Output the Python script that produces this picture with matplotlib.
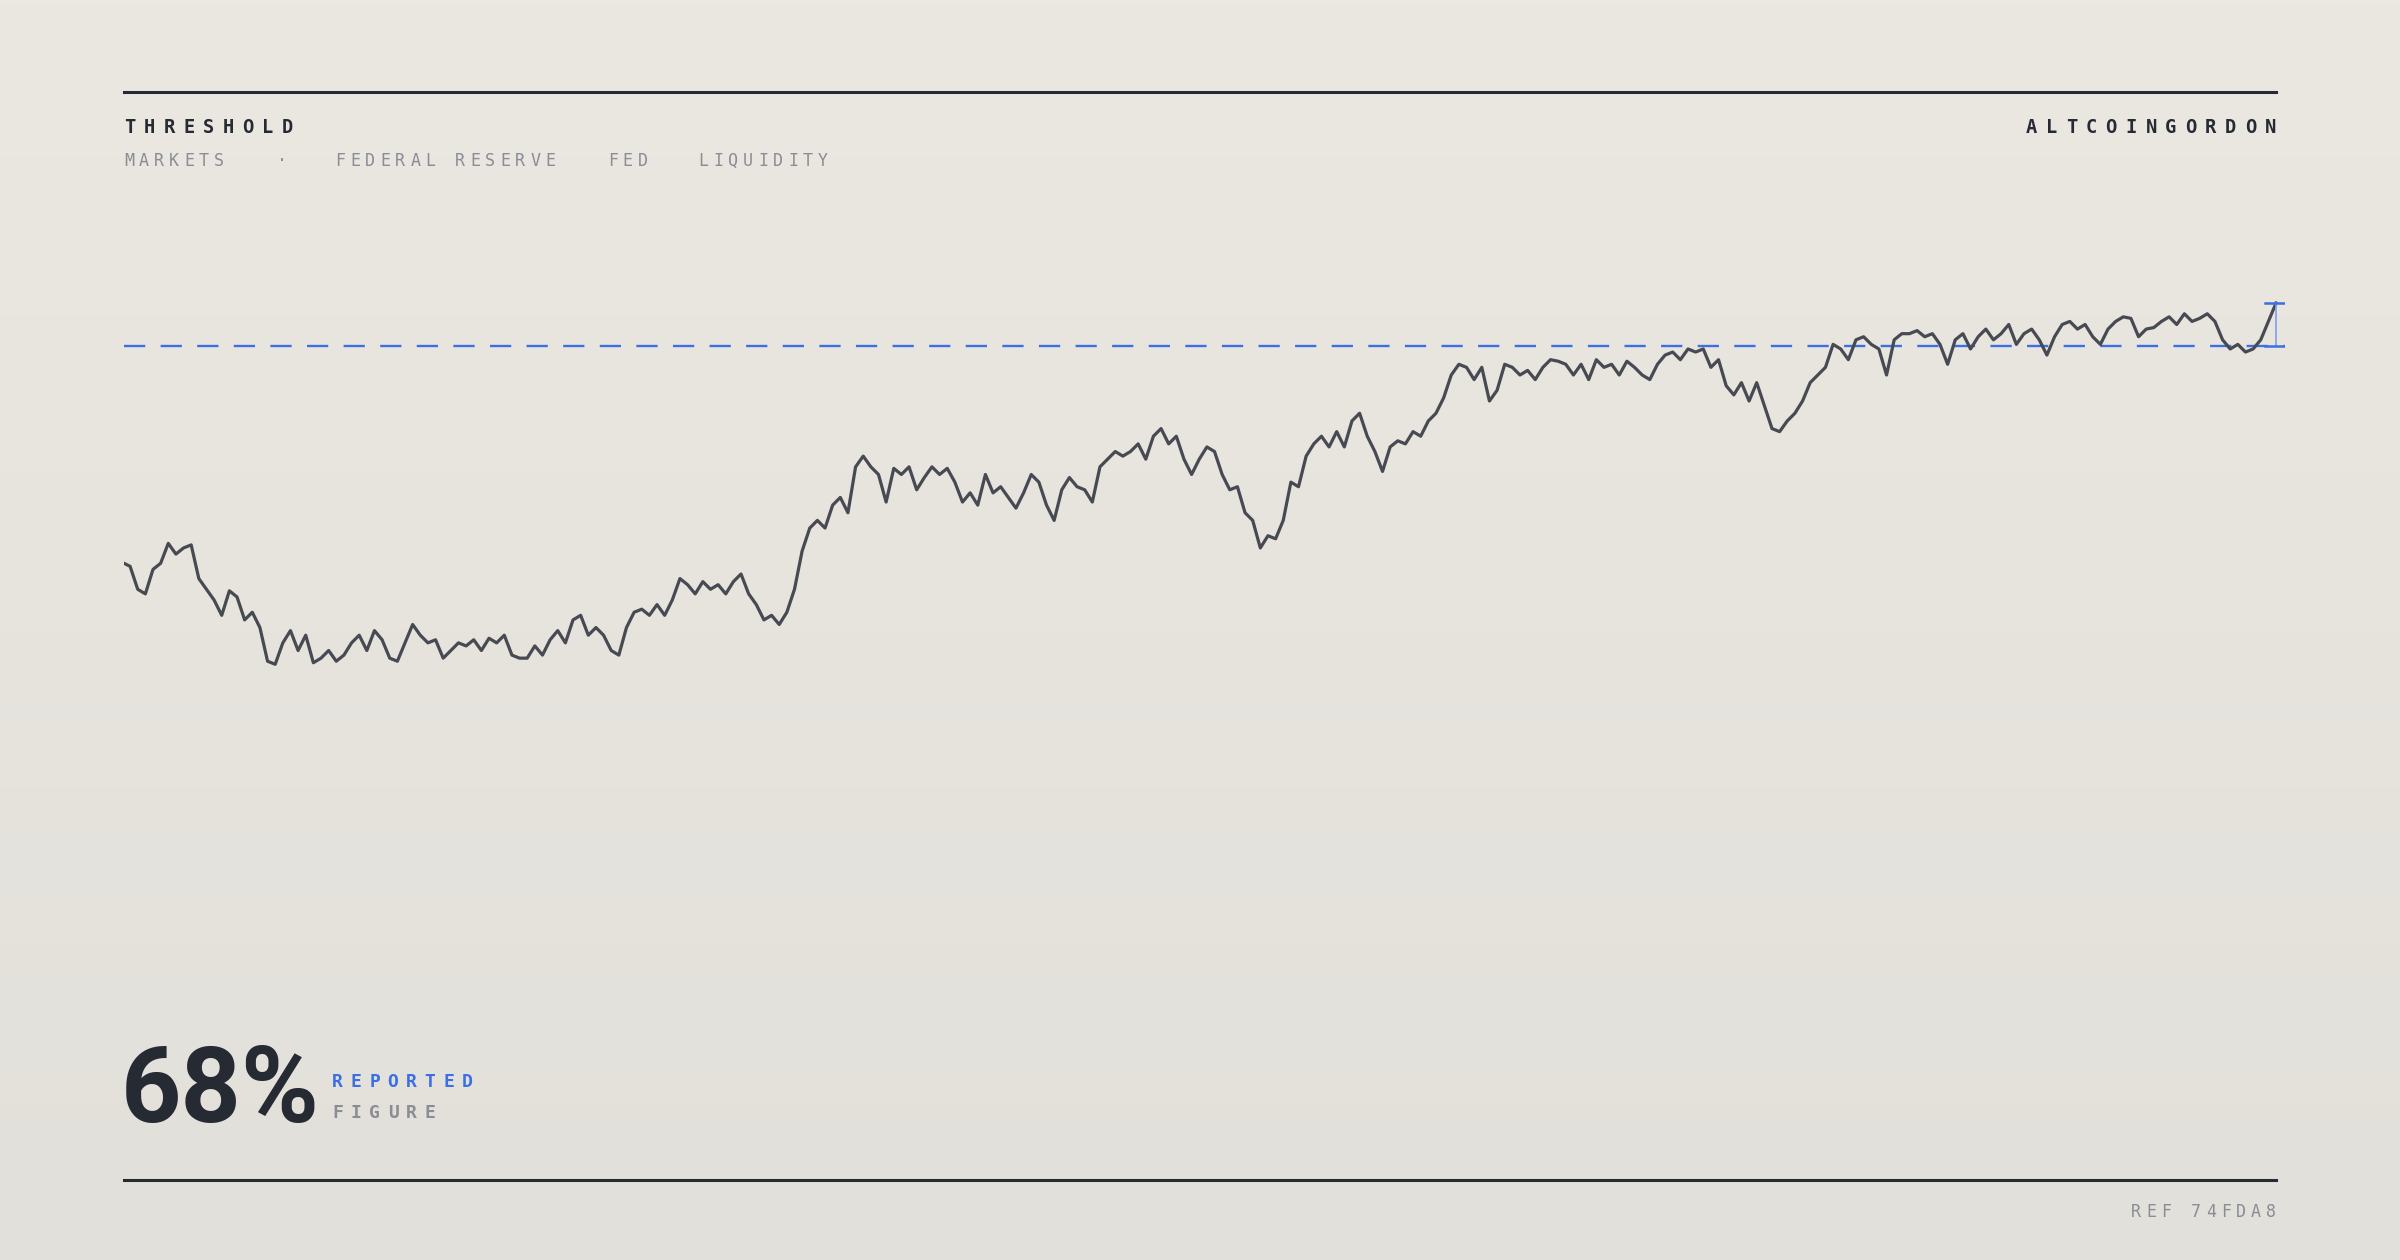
import numpy as np
import matplotlib
matplotlib.use("Agg")
import matplotlib.pyplot as plt

# series: level at each step along the track
ys = [368, 370, 385, 388, 372, 368, 355, 362, 358, 356, 378, 385, 392, 402, 386, 390, 405, 400, 410, 432,
      434, 420, 412, 425, 415, 433, 430, 425, 432, 428, 420, 415, 425, 412, 418, 430, 432, 420, 408, 415,
      420, 418, 430, 425, 420, 422, 418, 425, 417, 420, 415, 428, 430, 430, 422, 428, 418, 412, 420, 405,
      402, 415, 410, 415, 425, 428, 410, 400, 398, 402, 395, 402, 392, 378, 382, 388, 380, 385, 382, 388,
      380, 375, 388, 395, 405, 402, 408, 400, 385, 360, 345, 340, 345, 330, 325, 335, 305, 298, 305, 310,
      328, 306, 310, 305, 320, 312, 305, 310, 306, 315, 328, 322, 330, 310, 322, 318, 325, 332, 322, 310,
      315, 330, 340, 320, 312, 318, 320, 328, 305, 300, 295, 298, 295, 290, 300, 285, 280, 290, 285, 300,
      310, 300, 292, 295, 310, 320, 318, 335, 340, 358, 350, 352, 340, 315, 318, 298, 290, 285, 292, 282,
      292, 275, 270, 285, 295, 308, 292, 288, 290, 282, 285, 275, 270, 260, 245, 238, 240, 248, 240, 262,
      255, 238, 240, 245, 242, 248, 240, 235, 236, 238, 245, 238, 248, 235, 240, 238, 245, 236, 240, 245,
      248, 238, 232, 230, 235, 228, 230, 228, 240, 235, 252, 258, 250, 262, 250, 265, 280, 282, 275, 270,
      262, 250, 245, 240, 225, 228, 235, 222, 220, 225, 228, 245, 222, 218, 218, 216, 220, 218, 225, 238,
      222, 218, 228, 220, 215, 222, 218, 212, 225, 218, 215, 222, 232, 220, 212, 210, 215, 212, 220, 225,
      215, 210, 207, 208, 220, 215, 214, 210, 207, 212, 205, 210, 208, 205, 210, 222, 228, 225, 230, 228,
      222, 210, 198]
values = [500 - y for y in ys]
threshold = 500 - 226
xs = [81, 85] + list(range(90, 90 + 5 * (len(values) - 2), 5))
x_end = 1487
xs = [x_end - (xs[-1] - x) * (x_end - 81) / (xs[-1] - 81) for x in xs]

W, H = 2400, 1260
S = W / 1568  # reference scale
fig = plt.figure(figsize=(24, 12.6), dpi=100)

# background gradient
bg = fig.add_axes([0, 0, 1, 1])
grad = np.linspace(0, 1, 256).reshape(-1, 1)
top = np.array([235, 232, 225]) / 255
bot = np.array([226, 224, 218]) / 255
img = top + (bot - top) * grad[..., None]
bg.imshow(img.reshape(256, 1, 3), aspect="auto", extent=[0, 1, 0, 1])
bg.set_xlim(0, 1); bg.set_ylim(0, 1); bg.axis("off")

def fx(px):
    return px * S / W

def fy(py):
    return 1 - py * S / H

ink = "#262a33"
grey = "#8a8d94"
blue = "#3b6fe3"

# rules
bg.plot([fx(81), fx(1487)], [fy(60), fy(60)], color=ink, lw=2.2)
bg.plot([fx(81), fx(1487)], [fy(771), fy(771)], color=ink, lw=2.2)

def spaced(x, y, s, step, align="left", **kw):
    if align == "right":
        x = x - step * (len(s) - 1)
    for i, ch in enumerate(s):
        bg.text(fx(x + i * step), fy(y), ch, ha="left" if align == "left" else "right",
                va="center", family="DejaVu Sans Mono", **kw)

spaced(81, 83, "THRESHOLD", 12.9, size=13.5, weight="bold", color=ink)
spaced(1487, 83, "ALTCOINGORDON", 13.0, align="right", size=13.5, weight="bold", color=ink)
for x0, word in [(81, "MARKETS"), (181, "·"), (219, "FEDERAL RESERVE"), (397, "FED"), (456, "LIQUIDITY")]:
    spaced(x0, 105, word, 9.8, size=12, color=grey)
spaced(1487, 792, "REF 74FDA8", 9.8, align="right", size=12, color=grey)

bg.text(fx(79), fy(733), "68%", family=["Roboto", "DejaVu Sans"], weight="bold", size=76,
        color=ink, ha="left", va="baseline")
spaced(217, 707, "REPORTED", 12.1, size=13, weight="bold", color=blue)
spaced(217, 727, "FIGURE", 12.1, size=13, weight="bold", color=grey)

# chart
y_top, y_bot = 163.3, 457.3
ax = fig.add_axes([fx(81), fy(y_bot), fx(1493) - fx(81), fy(y_top) - fy(y_bot)])
ax.set_xlim(81, 1493)
ax.set_ylim(500 - y_bot, 500 - y_top)
ax.axis("off")
ax.plot([81, 1493], [threshold, threshold], color=blue, lw=1.7, dashes=(9, 6.5))
ax.plot(xs, values, color="#474a52", lw=2.3, solid_joinstyle="round")
ax.plot([x_end, x_end], [threshold, values[-1]], color="#7b9ff0", lw=1.2)
for v in (threshold, values[-1]):
    ax.plot([x_end - 7, x_end + 5], [v, v], color=blue, lw=1.8)

fig.savefig("out.png", dpi=100)
